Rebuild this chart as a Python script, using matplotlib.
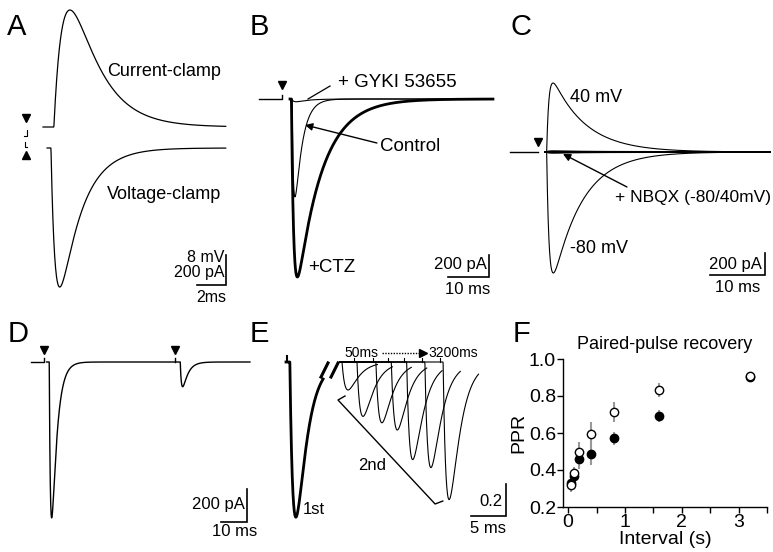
import numpy as np
import matplotlib
matplotlib.use('Agg')
import matplotlib.pyplot as plt

plt.rcParams['font.family'] = ['Liberation Sans', 'DejaVu Sans']

W, H = 773, 552

# synaptic responses: onset (ms), peak amplitude, rise tau (ms), decay tau (ms)
A_EPSP = [0.75, 31.2, 0.7, 1.9]       # mV
A_EPSC = [0.55, -927.0, 0.3, 1.5]     # pA
B_GYKI = [0.4, -25.0, 0.5, 3.0]
B_CONTROL = [0.5, -890.0, 0.35, 1.8]
B_CTZ = [0.35, -1618.0, 0.55, 6.0]
C_40MV = [0.3, 627.0, 0.4, 6.0]
C_M80MV = [0.3, -1100.0, 0.45, 5.3]
C_NBQX = [[0.3, 7.0, 0.5, 5.0], [0.3, -7.0, 0.5, 5.0]]

# paired pulse, 50 ms apart
D_STIM = [0.0, 50.0]
D_AMP = [-945.0, -150.0]
D_KIN = [2.0, 0.5, 2.0]   # delay, rise, decay

# normalised responses, 1st and 2nd (50 ms ... 3200 ms)
E_FIRST = [0.55, -0.97, 0.55, 1.45]
E_PEAK_T = [8.86, 11.0, 13.7, 15.9, 18.1, 20.7, 23.3]
E_AMP = [0.175, 0.34, 0.38, 0.425, 0.61, 0.66, 0.86]

# paired-pulse recovery
F_INTERVAL = [0.05, 0.1, 0.2, 0.4, 0.8, 1.6, 3.2]
F_OPEN = [0.32, 0.382, 0.495, 0.594, 0.713, 0.832, 0.908]
F_OPEN_ERR = [0.04, 0.035, 0.055, 0.065, 0.055, 0.04, 0.015]
F_FILLED = [0.33, 0.369, 0.458, 0.485, 0.571, 0.692, 0.902]
F_FILLED_ERR = [0.03, 0.03, 0.05, 0.058, 0.036, 0.035, 0.015]


def psc(t, onset, amp, tr, td):
    s = np.clip(t - onset, 0, None)
    tp = tr * td / (td - tr) * np.log(td / tr)
    norm = np.exp(-tp / td) - np.exp(-tp / tr)
    return amp * (np.exp(-s / td) - np.exp(-s / tr)) / norm


def trace_axes(left, top, right, bottom, ox, oy, sx, sy):
    ax = fig.add_axes([left / W, 1 - bottom / H, (right - left) / W, (bottom - top) / H])
    ax.set_xlim((left - ox) / sx, (right - ox) / sx)
    ax.set_ylim((oy - bottom) / sy, (oy - top) / sy)
    ax.axis('off')
    return ax


def scale_bar(ax, x, y, dx, dy):
    ax.plot([x - dx, x, x], [y, y, y + dy], color='k', lw=1.2, solid_joinstyle='miter')


def arrow(ax, start, end):
    ax.annotate('', xy=end, xytext=start,
                arrowprops=dict(arrowstyle='-|>', color='k', lw=1.0, mutation_scale=11,
                                shrinkA=0, shrinkB=0))


fig = plt.figure(figsize=(W / 100, H / 100), dpi=100)

# ---- A
ax = trace_axes(10, 0, 250, 305, 43, 127, 14.5, 3.75)
t = np.linspace(0, 12.6, 800)
ax.plot(t, psc(t, *A_EPSP), color='k', lw=0.9)
t = np.linspace(0.28, 12.6, 800)
ax.plot(t, psc(t, *A_EPSC) * 8 / 200 - 5.6, color='k', lw=0.9)
ax.plot([-1.17], [2.4], 'kv', ms=6)
ax.plot([-1.17], [-7.5], 'k^', ms=6)
ax.plot([-1.31, -1.124, -1.124], [-2.4, -2.4, -0.8], color='k', lw=0.8)
ax.plot([-1.262, -1.262, -1.124], [-3.92, -5.25, -5.25], color='k', lw=0.8)
ax.text(4.41, 14.7, 'Current-clamp', ha='left', va='center', size=13)
ax.text(4.41, -18.1, 'Voltage-clamp', ha='left', va='center', size=13)
scale_bar(ax, 12.62, -42.13, 2, 8)
ax.text(12.5, -34.7, '8 mV', ha='right', va='center', size=11.5)
ax.text(12.5, -38.9, '200 pA', ha='right', va='center', size=11.5)
ax.text(11.62, -45.6, '2ms', ha='center', va='center', size=11.5)

# ---- B
ax = trace_axes(250, 40, 505, 305, 290, 99, 4.1, 0.11)
ax.plot([-7.56, -1.95, -1.95], [0, 0, 36], color='k', lw=1.0)
ax.plot([-1.95], [127], 'kv', ms=6)
t = np.linspace(0, 49.5, 1500)
ax.plot(t, psc(t, *B_GYKI), color='k', lw=0.8)
ax.plot(t, psc(t, *B_CONTROL), color='k', lw=0.8)
ax.plot(t, psc(t, *B_CTZ), color='k', lw=2.0)
ax.text(11.7, 154, '+ GYKI 53655', ha='left', va='center', size=13.5)
ax.plot([9.76, 4.39], [118, 0], color='k', lw=0.9)
ax.text(21.95, -436, 'Control', ha='left', va='center', size=13.5)
arrow(ax, (21.2, -400), (3.66, -236))
ax.text(4.39, -1536, '+CTZ', ha='left', va='center', size=13.5)
scale_bar(ax, 48.5, -1618, 10, 200)
ax.text(48.0, -1509, '200 pA', ha='right', va='center', size=12)
ax.text(43.4, -1736, '10 ms', ha='center', va='center', size=12)

# ---- C
ax = trace_axes(505, 40, 773, 305, 545, 152, 5.5, 0.11)
ax.plot([-6.36, -1.27], [0, 0], color='k', lw=1.0)
ax.plot([-1.27], [91], 'kv', ms=6)
t = np.linspace(0, 40.9, 1500)
ax.plot(t, psc(t, *C_40MV), color='k', lw=0.8)
ax.plot(t, psc(t, *C_M80MV), color='k', lw=0.8)
for p in C_NBQX:
    ax.plot(t, psc(t, *p), color='k', lw=1.4)
ax.text(4.55, 500, '40 mV', ha='left', va='center', size=13)
ax.text(4.55, -873, '-80 mV', ha='left', va='center', size=13)
ax.text(12.7, -418, '+ NBQX (-80/40mV)', ha='left', va='center', size=12.5)
arrow(ax, (14.9, -318), (3.27, -18))
scale_bar(ax, 40.0, -1118, 10, 200)
ax.text(39.4, -1027, '200 pA', ha='right', va='center', size=12)
ax.text(35.1, -1236, '10 ms', ha='center', va='center', size=12)

# ---- D
ax = trace_axes(20, 330, 255, 550, 44, 362, 2.62, 0.165)
ax.plot([-4.96, 0, 0], [0, 0, 24], color='k', lw=1.0)
t = np.linspace(1.0, 78.6, 3000)
d = np.zeros_like(t)
for s, a in zip(D_STIM, D_AMP):
    d += psc(t, s + D_KIN[0], a, D_KIN[1], D_KIN[2])
ax.plot(t, d, color='k', lw=1.0)
ax.plot([D_STIM[1], D_STIM[1]], [0, 24], color='k', lw=1.0)
ax.plot(D_STIM, [73, 73], 'kv', ms=6)
scale_bar(ax, 77.5, -970, 10, 200)
ax.text(76.7, -861, '200 pA', ha='right', va='center', size=12)
ax.text(72.9, -1030, '10 ms', ha='center', va='center', size=12)

# ---- E
ax = trace_axes(262, 340, 515, 550, 286, 362, 7.0, 160)
t = np.linspace(0, 5.3, 500)
ax.plot(t, psc(t, *E_FIRST), color='k', lw=2.0)
ax.plot([0.1, 0.1], [0, 0.04], color='k', lw=1.5)
ax.plot([5.0, 6.0], [-0.094, -0.006], color='k', lw=2.2)
ax.plot([6.43, 7.43], [-0.094, -0.006], color='k', lw=2.2)
tr, td = E_FIRST[2], E_FIRST[3]
tpk = tr * td / (td - tr) * np.log(td / tr)
for p, a in zip(E_PEAK_T, E_AMP):
    t = np.linspace(7.7, p + 4.2, 600)
    ax.plot(t, psc(t, p - tpk, -a, tr, td), color='k', lw=0.8)
    if p - tpk - 0.4 > 7.8:
        ax.plot([p - tpk - 0.4] * 2, [0, 0.025], color='k', lw=0.8)
ax.text(8.3, 0.055, '50ms', ha='left', va='center', size=10)
ax.plot([13.7, 19.3], [0.055, 0.055], color='k', lw=1.0, ls=(0, (1, 1)))
ax.plot([19.5], [0.055], 'k>', ms=6)
ax.text(20.3, 0.055, '3200ms', ha='left', va='center', size=10)
ax.plot([8.43, 7.43, 21.3, 22.4], [-0.2125, -0.2375, -0.8875, -0.869], color='k', lw=1.0)
ax.text(10.3, -0.65, '2nd', ha='left', va='center', size=12)
ax.text(2.43, -0.925, '1st', ha='left', va='center', size=12)
scale_bar(ax, 31.4, -0.9625, 5, 0.2)
ax.text(31.0, -0.875, '0.2', ha='right', va='center', size=12)
ax.text(28.9, -1.04, '5 ms', ha='center', va='center', size=12)

# ---- F
ax = fig.add_axes([563 / W, 1 - 507 / H, (767 - 563) / W, (507 - 359) / H])
ax.errorbar(F_INTERVAL, F_FILLED, yerr=F_FILLED_ERR, fmt='none', ecolor='0.6', elinewidth=1.5)
ax.errorbar(F_INTERVAL, F_OPEN, yerr=F_OPEN_ERR, fmt='none', ecolor='0.6', elinewidth=1.5)
ax.plot(F_INTERVAL, F_FILLED, 'o', color='k', ms=6, mec='k')
ax.plot(F_INTERVAL, F_OPEN, 'o', mfc='white', mec='k', ms=6, mew=1.0)
ax.set_xlim(-0.09, 3.5)
ax.set_ylim(0.2, 1.0)
ax.set_xticks([0, 1, 2, 3])
ax.set_xticks([0.5, 1.5, 2.5, 3.5], minor=True)
ax.set_yticks([0.2, 0.4, 0.6, 0.8, 1.0])
ax.set_yticklabels(['0.2', '0.4', '0.6', '0.8', '1.0'])
ax.tick_params(direction='out', length=4, width=1, labelsize=14, pad=1)
ax.tick_params(which='minor', direction='out', length=4, width=1)
for s in ['top', 'right']:
    ax.spines[s].set_visible(False)
for s in ['left', 'bottom']:
    ax.spines[s].set_linewidth(1.0)
ax.set_title('Paired-pulse recovery', size=13, pad=7)
ax.set_xlabel('Interval (s)', size=14, labelpad=0)
ax.set_ylabel('PPR', size=14, labelpad=1)

# panel letters
for letter, x, y in [('A', 7, 35), ('B', 250, 35), ('C', 511, 35),
                     ('D', 8, 342), ('E', 250, 342), ('F', 513, 342)]:
    fig.text(x / W, 1 - y / H, letter, size=21, va='baseline', ha='left')

fig.savefig('out.png', dpi=100)
